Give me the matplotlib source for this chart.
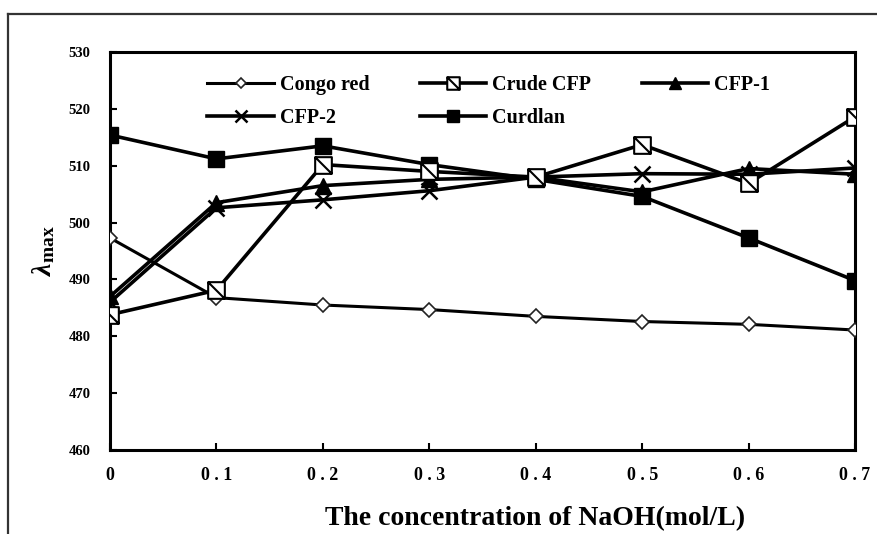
import numpy as np
import matplotlib
matplotlib.use('Agg')
import matplotlib.pyplot as plt
from matplotlib.path import Path
from matplotlib.lines import Line2D

# NaOH concentration (mol/L)
conc = [0, 0.1, 0.2, 0.3, 0.4, 0.5, 0.6, 0.7]
xtick_labels = ['0', '0 . 1', '0 . 2', '0 . 3', '0 . 4', '0 . 5', '0 . 6', '0 . 7']

# lambda max (nm) for each sample
congo_red = [497.3, 486.8, 485.5, 484.7, 483.5, 482.6, 482.1, 481.1]
crude_cfp = [483.8, 488.1, 510.2, 509.0, 508.0, 513.7, 506.9, 518.6]
cfp_1 = [487.0, 503.5, 506.5, 507.6, 508.0, 505.4, 509.5, 508.5]
cfp_2 = [486.0, 502.6, 504.0, 505.6, 508.0, 508.6, 508.5, 509.6]
curdlan = [515.4, 511.2, 513.5, 510.2, 507.6, 504.6, 497.3, 489.8]

plt.rcParams['font.family'] = 'Liberation Serif'
plt.rcParams['font.weight'] = 'bold'
plt.rcParams['mathtext.fontset'] = 'custom'
plt.rcParams['mathtext.rm'] = 'Liberation Serif'
plt.rcParams['mathtext.it'] = 'Liberation Serif:italic'

fig = plt.figure(figsize=(8.77, 5.34), dpi=100)

# outer frame (top and left edge)
fig.add_artist(Line2D([8/877, 1.0], [1-14/534, 1-14/534], color='#333333', lw=1.6))
fig.add_artist(Line2D([8/877, 8/877], [0, 1-14/534], color='#333333', lw=1.6))

ax = fig.add_axes([110/877, 84/534, 745/877, 398/534])

# square with a diagonal stroke for crude CFP
diag_sq = Path([(-1, -1), (1, -1), (1, 1), (-1, 1), (-1, -1), (-1, 1), (1, -1)],
               [Path.MOVETO, Path.LINETO, Path.LINETO, Path.LINETO, Path.CLOSEPOLY,
                Path.MOVETO, Path.LINETO])

lw = 2.6
h_congo, = ax.plot(conc, congo_red, color='black', lw=2.2, marker='D', ms=7,
                   mfc='white', mec='#222222', mew=1.2, label='Congo red', zorder=3)
h_crude, = ax.plot(conc, crude_cfp, color='black', lw=lw, marker=diag_sq, ms=12,
                   mfc='white', mec='black', mew=1.5, label='Crude CFP', zorder=4)
h_c1, = ax.plot(conc, cfp_1, color='black', lw=lw, marker='^', ms=12,
                mfc='black', mec='black', label='CFP-1', zorder=3)
h_c2, = ax.plot(conc, cfp_2, color='black', lw=lw, marker='x', ms=11,
                mec='black', mew=1.8, label='CFP-2', zorder=3)
h_curd, = ax.plot(conc, curdlan, color='black', lw=lw, marker='s', ms=12,
                  mfc='black', mec='black', label='Curdlan', zorder=3)

ax.set_xlim(0, 0.7)
ax.set_ylim(460, 530)
ax.set_xticks(conc)
ax.set_xticklabels(xtick_labels, fontsize=13, fontweight='bold')
ax.set_yticks(np.arange(460, 531, 10))
ax.tick_params(axis='y', labelsize=10.5, direction='in', length=5, width=1.5, pad=14)
ax.tick_params(axis='x', direction='in', length=5, width=1.5, pad=12)
for s in ax.spines.values():
    s.set_linewidth(2.2)

ax.set_xlabel('The concentration of NaOH(mol/L)', fontsize=20, fontweight='bold')
ax.xaxis.set_label_coords(0.57, -0.14)
ax.set_ylabel(r'$\lambda_{\mathrm{max}}$', fontsize=20, labelpad=8)

# legend filled column by column, so order handles to read row-wise
handles = [h_congo, h_c2, h_crude, h_curd, h_c1]
leg = ax.legend(handles=handles, labels=[h.get_label() for h in handles],
                loc='upper left', bbox_to_anchor=(0.12, 0.962), ncol=3, frameon=False,
                fontsize=14.5, handlelength=3.3, columnspacing=2.5, labelspacing=0.65,
                handletextpad=0.3, borderaxespad=0, markerscale=0.75)
for t in leg.get_texts():
    t.set_fontweight('bold')

fig.savefig('out.png', dpi=100)
